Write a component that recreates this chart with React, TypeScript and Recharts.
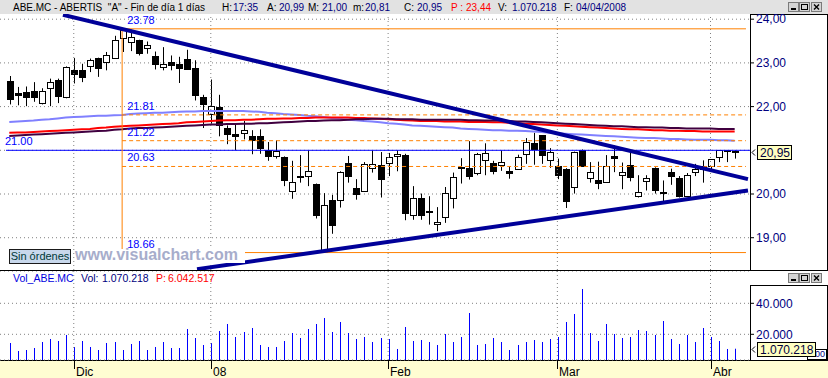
import React from 'react'
import { ComposedChart, Bar, Line, XAxis, YAxis, CartesianGrid, ReferenceLine } from 'recharts'

const FONT = '"Liberation Sans", Arial, sans-serif'

// daily candles, 21/11/2007 .. 04/04/2008 (index = trading day)
const opens = [
  22.59, 22.30, 22.33, 22.36, 22.09, 22.42, 22.62, 22.21, 22.83, 22.83,
  22.92, 23.11, 23.01, 23.12, 23.57, 23.47, 23.52, 23.34, 23.16, 22.91,
  23.01, 22.98, 23.09, 22.88, 22.21, 21.84, 21.99, 21.51, 21.38, 21.40,
  21.33, 21.33, 21.00, 20.86, 20.85, 20.08, 20.41, 20.41, 20.23, 18.67,
  19.86, 19.87, 20.71, 20.14, 20.08, 20.59, 20.66, 20.70, 20.86, 20.89,
  19.51, 19.92, 19.61, 19.31, 19.47, 19.92, 20.60, 20.60, 20.47, 20.77,
  20.71, 20.66, 20.53, 20.58, 20.91, 21.17, 21.34, 20.77, 20.64, 20.58,
  20.16, 21.00, 20.37, 20.32, 20.28, 20.87, 20.43, 20.66, 19.95, 20.29,
  20.60, 20.05, 20.50, 20.37, 19.95, 20.50, 20.57, 20.64, 20.84, 21.00,
  20.99,
]
const highs = [
  22.70, 22.45, 22.46, 22.56, 22.42, 22.64, 22.64, 22.92, 23.11, 22.98,
  23.10, 23.12, 23.25, 23.62, 23.78, 23.76, 23.53, 23.49, 23.26, 23.36,
  23.17, 23.14, 23.30, 23.06, 22.27, 22.62, 22.27, 21.57, 21.61, 21.67,
  21.46, 21.48, 21.19, 21.23, 20.86, 20.76, 20.89, 21.00, 20.24, 20.02,
  19.98, 20.52, 20.87, 20.34, 20.73, 21.00, 20.96, 20.94, 21.00, 20.92,
  20.18, 20.01, 19.95, 19.70, 20.16, 20.49, 20.82, 21.21, 20.94, 21.16,
  20.76, 21.00, 20.64, 20.90, 21.28, 21.40, 21.35, 21.05, 20.81, 20.59,
  20.97, 21.02, 20.73, 20.74, 20.89, 21.11, 20.72, 21.00, 20.43, 20.43,
  20.61, 20.31, 20.58, 20.41, 20.48, 20.69, 20.77, 20.80, 21.00, 21.00,
  21.00,
]
const lows = [
  22.05, 22.03, 22.01, 22.11, 22.05, 22.01, 22.08, 22.19, 22.53, 22.56,
  22.79, 22.68, 22.83, 23.11, 23.25, 23.27, 23.17, 23.21, 22.85, 22.83,
  22.83, 22.54, 22.86, 22.14, 21.51, 21.61, 21.32, 21.14, 21.00, 21.25,
  20.91, 20.92, 20.76, 20.81, 20.18, 19.89, 20.26, 20.18, 19.44, 18.66,
  19.09, 19.69, 20.26, 19.87, 20.06, 20.49, 19.92, 20.41, 20.52, 19.40,
  19.41, 19.41, 19.30, 19.15, 19.34, 19.67, 20.24, 20.33, 20.43, 20.43,
  20.45, 20.53, 20.35, 20.57, 20.69, 20.67, 20.69, 20.60, 20.34, 19.68,
  20.01, 20.64, 20.26, 20.11, 20.28, 20.50, 20.11, 20.29, 19.92, 20.08,
  20.01, 19.83, 20.21, 19.92, 19.93, 20.41, 20.26, 20.57, 20.73, 20.73,
  20.81,
]
const closes = [
  22.18, 22.26, 22.22, 22.21, 22.36, 22.56, 22.24, 22.90, 22.75, 22.68,
  23.07, 22.89, 23.17, 23.52, 23.76, 23.59, 23.23, 23.41, 22.97, 22.98,
  22.95, 22.88, 22.87, 22.27, 22.05, 22.01, 21.57, 21.37, 21.33, 21.46,
  21.23, 21.06, 20.86, 20.98, 20.31, 20.28, 20.40, 20.52, 19.53, 19.74,
  19.30, 20.50, 20.42, 20.01, 20.69, 20.68, 20.35, 20.84, 20.92, 19.57,
  19.92, 19.51, 19.60, 19.35, 20.02, 20.38, 20.61, 20.41, 20.92, 20.94,
  20.53, 20.73, 20.49, 20.85, 21.18, 21.04, 20.90, 20.96, 20.44, 19.85,
  20.96, 20.64, 20.50, 20.26, 20.64, 20.83, 20.50, 20.39, 20.04, 20.36,
  20.10, 20.02, 20.41, 19.96, 20.43, 20.58, 20.65, 20.79, 21.00, 20.98,
  20.95,
]
// volume in hundreds of shares
const volumes = [
  14390, 9230, 9870, 11160, 15030, 16970, 15680, 19550, 11810, 15680,
  11810, 9870, 14390, 15030, 9870, 13740, 15680, 9870, 11810, 15030,
  11160, 11160, 23420, 17610, 13100, 14390, 22130, 26650, 18260, 21480,
  24060, 13100, 11810, 11810, 15680, 20840, 17610, 23420, 26650, 30520,
  21480, 27940, 20840, 16970, 18260, 15030, 17610, 16970, 10520, 24710,
  15680, 16320, 15030, 13100, 20190, 15030, 18260, 33740, 13100, 13740,
  17610, 15030, 9870, 13100, 15030, 16320, 15030, 16970, 18260, 27940,
  33100, 49230, 20840, 15680, 26650, 20190, 17610, 18260, 22770, 22130,
  19550, 28580, 16970, 13740, 19550, 15030, 24060, 18260, 15680, 10520,
  10700,
]
const maLight = [
  21.65, 21.66, 21.67, 21.68, 21.70, 21.71, 21.73, 21.75, 21.76, 21.77,
  21.78, 21.79, 21.79, 21.80, 21.81, 21.83, 21.84, 21.85, 21.86, 21.86,
  21.87, 21.88, 21.89, 21.89, 21.90, 21.90, 21.90, 21.90, 21.90, 21.90,
  21.89, 21.88, 21.86, 21.85, 21.83, 21.82, 21.81, 21.79, 21.78, 21.76,
  21.74, 21.72, 21.70, 21.69, 21.67, 21.66, 21.64, 21.62, 21.61, 21.59,
  21.57, 21.56, 21.55, 21.54, 21.53, 21.52, 21.50, 21.49, 21.48, 21.47,
  21.46, 21.46, 21.45, 21.45, 21.44, 21.43, 21.42, 21.40, 21.39, 21.38,
  21.37, 21.36, 21.35, 21.34, 21.33, 21.32, 21.31, 21.30, 21.29, 21.28,
  21.28, 21.27, 21.26, 21.26, 21.25, 21.24, 21.24, 21.24, 21.23, 21.23,
  21.22,
]
const maRed = [
  21.40, 21.41, 21.41, 21.42, 21.43, 21.44, 21.45, 21.46, 21.47, 21.48,
  21.49, 21.51, 21.52, 21.54, 21.55, 21.56, 21.57, 21.58, 21.59, 21.60,
  21.61, 21.62, 21.64, 21.65, 21.66, 21.67, 21.68, 21.69, 21.69, 21.70,
  21.70, 21.71, 21.72, 21.72, 21.73, 21.73, 21.74, 21.74, 21.75, 21.75,
  21.75, 21.75, 21.75, 21.74, 21.74, 21.73, 21.72, 21.71, 21.70, 21.69,
  21.68, 21.67, 21.67, 21.67, 21.66, 21.66, 21.66, 21.65, 21.65, 21.65,
  21.64, 21.64, 21.63, 21.62, 21.61, 21.60, 21.59, 21.58, 21.57, 21.56,
  21.55, 21.54, 21.53, 21.52, 21.51, 21.50, 21.49, 21.48, 21.48, 21.47,
  21.46, 21.46, 21.45, 21.45, 21.44, 21.44, 21.43, 21.43, 21.43, 21.43,
  21.43,
]
const maDark = [
  21.33, 21.34, 21.35, 21.36, 21.37, 21.38, 21.39, 21.40, 21.41, 21.42,
  21.43, 21.44, 21.45, 21.47, 21.48, 21.50, 21.51, 21.51, 21.52, 21.53,
  21.54, 21.55, 21.56, 21.57, 21.58, 21.59, 21.59, 21.60, 21.60, 21.61,
  21.61, 21.62, 21.62, 21.63, 21.64, 21.65, 21.66, 21.67, 21.67, 21.68,
  21.69, 21.69, 21.70, 21.71, 21.71, 21.72, 21.72, 21.72, 21.71, 21.71,
  21.71, 21.70, 21.70, 21.70, 21.70, 21.70, 21.70, 21.69, 21.69, 21.68,
  21.68, 21.68, 21.67, 21.66, 21.66, 21.65, 21.64, 21.63, 21.62, 21.61,
  21.60, 21.59, 21.58, 21.57, 21.56, 21.55, 21.55, 21.54, 21.53, 21.53,
  21.52, 21.52, 21.51, 21.51, 21.50, 21.50, 21.50, 21.50, 21.49, 21.49,
  21.49,
]

const monthTicks = [8, 25, 47, 68, 87]
const monthLabels = ['Dic', '08', 'Feb', 'Mar', 'Abr']
// 21,00 is covered by the last-price tag, so it is not labelled
const priceTicks = [19, 20, 22, 23, 24]
const volumeTicks = [20000, 40000]

// fibonacci retracement between the high (day 14) and the low (day 39)
const fibLevels = [23.78, 21.81, 21.22, 20.63, 18.66]
const fibStart = 14
const fibEnd = 91.4
const alertLevel = 21.0
const alertStart = -0.41
const upperTrend = [{ x: 6.66, y: 24.1 }, { x: 91.65, y: 20.34 }]
const lowerTrend = [{ x: 23.29, y: 18.28 }, { x: 91.65, y: 20.08 }]
const lastClose = 20.95
const lastVolume = 10702

const X_DOMAIN: [number, number] = [-1.154, 91.9]
const PRICE_DOMAIN: [number, number] = [18.261, 24.119]
const VOL_DOMAIN: [number, number] = [3419, 60839]

const candles = opens.map((o, i) => ({
  i,
  o,
  h: highs[i],
  l: lows[i],
  c: closes[i],
  v: volumes[i],
  maA: maLight[i],
  maB: maRed[i],
  maC: maDark[i],
}))

const fmtPrice = (v: number) => v.toFixed(2).replace('.', ',')
const fmtVol = (v: number) => String(v).replace(/\B(?=(\d{3})+(?!\d))/g, '.')

const Candle = (props: any) => {
  const { x, y, width, height, payload } = props
  if (![x, y, width, height].every(Number.isFinite) || !payload) return null
  const { o, h, l, c } = payload
  const top = Math.min(y, y + height)
  const span = Math.abs(height)
  const k = span / (h - l)
  const cx = Math.round(x + width / 2) + 0.5
  const yO = top + (h - o) * k
  const yC = top + (h - c) * k
  const bTop = Math.round(Math.min(yO, yC)) + 0.5
  const bBot = Math.round(Math.max(yO, yC)) + 0.5
  const up = c >= o
  return (
    <g>
      <line x1={cx} x2={cx} y1={top} y2={top + span} stroke="#000" strokeWidth={1} />
      <rect
        x={cx - 3}
        y={bTop}
        width={6}
        height={Math.max(bBot - bTop, 1)}
        fill={up ? '#fff' : '#000'}
        stroke="#000"
        strokeWidth={1}
      />
    </g>
  )
}

const VolBar = (props: any) => {
  const { x, y, width, height } = props
  if (![x, y, width, height].every(Number.isFinite)) return null
  return <rect x={Math.round(x + width / 2)} y={y} width={1} height={height} fill="#0000FF" />
}

const MonthTick = (props: any) => {
  const { x, y, payload } = props
  const px = Math.round(x) + 0.5
  const label = monthLabels[monthTicks.indexOf(payload.value)]
  return (
    <g>
      <line x1={px} x2={px} y1={y} y2={y + 9} stroke="#000" />
      <text x={px + 1.5} y={y + 16} fontSize={12} fontFamily={FONT} fill="#000">
        {label}
      </text>
    </g>
  )
}

const levelLabel = (text: string, dx: number) => (p: any) => {
  const vb = p.viewBox || {}
  return (
    <text x={vb.x + dx} y={vb.y - 5} fill="#0000FF" fontSize={11} fontFamily={FONT}>
      {text}
    </text>
  )
}

const priceTag = (text: string, w: number) => (p: any) => {
  const vb = p.viewBox || {}
  const right = vb.x + vb.width
  const y = Math.round(vb.y)
  return (
    <g>
      <path d={`M${right + 5},${y - 2.5} L${right + 2},${y + 0.5} L${right + 5},${y + 3.5}`} stroke="#000" fill="none" />
      <rect x={right + 7.5} y={y - 6.5} width={w} height={14} fill="#FFFFC0" stroke="#000" />
      <text x={right + 10} y={y + 5} fontSize={12} fontFamily={FONT} fill="#000040">
        {text}
      </text>
    </g>
  )
}

const titleParts = [
  { x: 13, t: 'ABE.MC - ABERTIS  "A" - Fin de día 1 días', c: '#000' },
  { x: 222, t: 'H:', c: '#000' },
  { x: 233, t: '17:35', c: '#000080' },
  { x: 267, t: 'A:', c: '#000' },
  { x: 279, t: '20,99', c: '#000080' },
  { x: 308, t: 'M:', c: '#000' },
  { x: 322, t: '21,00', c: '#000080' },
  { x: 353, t: 'm:', c: '#000' },
  { x: 365, t: '20,81', c: '#000080' },
  { x: 404, t: 'C:', c: '#000' },
  { x: 417, t: '20,95', c: '#000080' },
  { x: 451, t: 'P :', c: '#FF0000' },
  { x: 466, t: '23,44', c: '#FF0000' },
  { x: 498, t: 'V:', c: '#000' },
  { x: 512, t: '1.070.218', c: '#000080' },
  { x: 564, t: 'F:', c: '#000' },
  { x: 576, t: '04/04/2008', c: '#000080' },
]

const volParts = [
  { x: 13, t: 'Vol_ABE.MC', c: '#0000E0' },
  { x: 81, t: 'Vol:', c: '#000080' },
  { x: 102, t: '1.070.218', c: '#000080' },
  { x: 156, t: 'P:', c: '#FF0000' },
  { x: 168, t: '6.042.517', c: '#FF0000' },
]

const WindowButtons = ({ top }: { top: number }) => (
  <svg style={{ position: 'absolute', left: 786, top }} width={40} height={12}>
    {[2, 13, 25].map((bx, k) => (
      <g key={bx}>
        <rect x={bx + 0.5} y={0.5} width={10} height={9} fill="#D4D4D4" stroke="#7a7a7a" />
        {k === 0 && <rect x={bx + 3} y={6} width={5} height={2} fill="#000" />}
        {k === 1 && <rect x={bx + 2.5} y={2.5} width={6} height={5} fill="none" stroke="#000" />}
        {k === 2 && <path d={`M${bx + 3},${2.5} L${bx + 8},${7.5} M${bx + 8},${2.5} L${bx + 3},${7.5}`} stroke="#000" strokeWidth={1.4} />}
      </g>
    ))}
  </svg>
)

export default function App() {
  const abs = (s: React.CSSProperties): React.CSSProperties => ({ position: 'absolute', boxSizing: 'border-box', ...s })
  return (
    <div style={abs({ left: 0, top: 0, width: 828, height: 378, background: '#fff', overflow: 'hidden', fontFamily: FONT })}>
      <div style={abs({ left: 0, top: 0, width: 828, height: 14, background: '#E2E2E2' })} />
      <div style={abs({ left: 750, top: 14, width: 78, height: 257, borderLeft: '1px solid #000', borderTop: '1px solid #000', borderRight: '1px solid #000' })} />
      <div style={abs({ left: 0, top: 270, width: 828, height: 1, background: '#000' })} />
      <div style={abs({ left: 750, top: 285, width: 78, height: 76, borderLeft: '1px solid #000', borderTop: '1px solid #000', borderRight: '1px solid #000' })} />
      <div style={abs({ left: 807, top: 349, width: 20, height: 11, border: '1px solid #000', fontSize: 9, lineHeight: '9px', color: '#000080', overflow: 'hidden', textAlign: 'right', paddingRight: 1 })}>00</div>
      <div style={abs({ left: 0, top: 360, width: 828, height: 18, background: '#FFFDD2', borderTop: '1px solid #000' })} />

      <div style={abs({ left: 0, top: 14 })}>
        <ComposedChart width={828} height={256} data={candles} margin={{ top: 0, right: 0, bottom: 0, left: 0 }} style={{ overflow: 'visible' }}>
          <CartesianGrid vertical={false} stroke="#808080" strokeDasharray="1 3" horizontalValues={[19, 20, 21, 22, 23, 24]} />
          <XAxis dataKey="i" type="number" domain={X_DOMAIN} allowDataOverflow hide />
          <YAxis
            orientation="right"
            width={78}
            domain={PRICE_DOMAIN}
            allowDataOverflow
            ticks={priceTicks}
            interval={0}
            tickFormatter={fmtPrice}
            axisLine={false}
            tickLine={{ stroke: '#000' }}
            tickSize={4}
            tick={{ fill: '#000080', fontSize: 12, fontFamily: FONT }}
          />
          {monthTicks.map(t => (
            <ReferenceLine key={t} x={t} stroke="#808080" strokeDasharray="1 3" />
          ))}
          <Line type="linear" dataKey="maA" stroke="#8080FF" strokeWidth={2} dot={false} activeDot={false} isAnimationActive={false} />
          <Line type="linear" dataKey="maB" stroke="#FF0000" strokeWidth={2} dot={false} activeDot={false} isAnimationActive={false} />
          <Line type="linear" dataKey="maC" stroke="#400040" strokeWidth={2} dot={false} activeDot={false} isAnimationActive={false} />
          <ReferenceLine
            segment={[{ x: alertStart, y: alertLevel }, { x: X_DOMAIN[1], y: alertLevel }]}
            stroke="#0000FF"
            ifOverflow="visible"
            label={levelLabel('21.00', -1)}
          />
          {fibLevels.map((lv, k) => (
            <ReferenceLine
              key={lv}
              segment={[{ x: fibStart, y: lv }, { x: fibEnd, y: lv }]}
              stroke="#FF8000"
              strokeDasharray={k === 0 || k === fibLevels.length - 1 ? undefined : '4 3'}
              ifOverflow="visible"
              label={levelLabel(lv.toFixed(2), 5)}
            />
          ))}
          <ReferenceLine
            segment={[{ x: fibStart, y: fibLevels[0] }, { x: fibStart, y: fibLevels[fibLevels.length - 1] }]}
            stroke="#FF8000"
            ifOverflow="visible"
          />
          <Bar dataKey={(d: any) => [d.l, d.h]} barSize={7} shape={<Candle />} isAnimationActive={false} />
          <ReferenceLine segment={upperTrend} stroke="#000099" strokeWidth={4} ifOverflow="hidden" />
          <ReferenceLine segment={lowerTrend} stroke="#000099" strokeWidth={4} ifOverflow="hidden" />
          <ReferenceLine y={lastClose} strokeOpacity={0} ifOverflow="visible" label={priceTag('20,95', 34)} />
        </ComposedChart>
      </div>

      <div style={abs({ left: 0, top: 271 })}>
        <ComposedChart width={828} height={107} data={candles} margin={{ top: 0, right: 0, bottom: 0, left: 0 }}>
          <CartesianGrid vertical={false} stroke="#808080" strokeDasharray="1 3" />
          <XAxis
            dataKey="i"
            type="number"
            domain={X_DOMAIN}
            allowDataOverflow
            ticks={monthTicks}
            interval={0}
            height={18}
            axisLine={false}
            tickLine={false}
            tickSize={0}
            tickMargin={0}
            tick={<MonthTick />}
          />
          <YAxis
            orientation="right"
            width={78}
            domain={VOL_DOMAIN}
            allowDataOverflow
            ticks={volumeTicks}
            interval={0}
            tickFormatter={fmtVol}
            axisLine={false}
            tickLine={{ stroke: '#000' }}
            tickSize={4}
            tick={{ fill: '#000080', fontSize: 12, fontFamily: FONT }}
          />
          {monthTicks.map(t => (
            <ReferenceLine key={t} x={t} stroke="#808080" strokeDasharray="1 3" />
          ))}
          <Bar dataKey="v" barSize={1} fill="#0000FF" shape={<VolBar />} isAnimationActive={false} />
          <ReferenceLine y={lastVolume} strokeOpacity={0} ifOverflow="visible" label={priceTag('1.070.218', 58)} />
        </ComposedChart>
      </div>

      <svg style={abs({ left: 0, top: 0 })} width={828} height={378}>
        {titleParts.map(p => (
          <text key={p.x} x={p.x} y={11} fontSize={10} fontFamily={FONT} fill={p.c} style={{ whiteSpace: 'pre' }}>
            {p.t}
          </text>
        ))}
        {volParts.map(p => (
          <text key={p.x} x={p.x} y={281.5} fontSize={10.5} fontFamily={FONT} fill={p.c}>
            {p.t}
          </text>
        ))}
      </svg>

      <div style={abs({ left: 75, top: 249, width: 170, height: 14, background: '#fff', color: '#A7ADCB', fontWeight: 'bold', fontSize: 16, lineHeight: '12px', whiteSpace: 'nowrap' })}>
        www.visualchart.com
      </div>
      <div style={abs({ left: 9, top: 249, width: 62, height: 15, background: '#C8D8EC', border: '1px solid #1a1a1a', color: '#003838', fontSize: 11, lineHeight: '13px', textAlign: 'center', whiteSpace: 'nowrap' })}>
        Sin órdenes
      </div>
      <WindowButtons top={2} />
      <WindowButtons top={273} />
    </div>
  )
}
